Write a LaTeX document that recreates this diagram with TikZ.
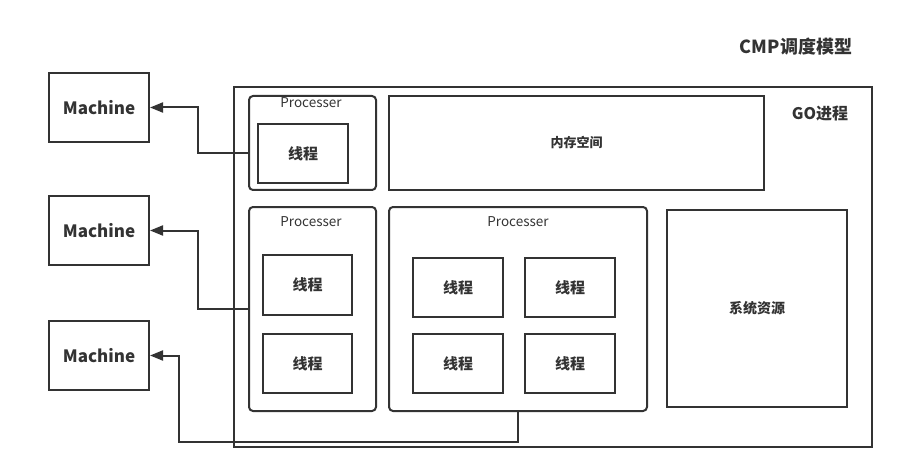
\documentclass[tikz,border=0pt]{standalone}
\usepackage{fontspec}
\setmainfont{Noto Sans CJK SC}
\usepackage{tikz}
\usetikzlibrary{arrows.meta}
\definecolor{ink}{HTML}{333333}
\tikzset{
  box/.style={draw=ink,line width=2pt,inner sep=0pt},
  procbox/.style={box,rounded corners=4pt},
  conn/.style={draw=ink,line width=2pt,-{Triangle[length=13pt,width=10pt]}},
}
\begin{document}
\begin{tikzpicture}[x=1pt,y=-1pt,text=ink]
\useasboundingbox (0,0) rectangle (923,473);
\node (title) at (796,47) {\fontsize{18}{20}\selectfont\bfseries CMP调度模型};
  \node (mach1) at (99,107.5) [box,minimum width=100pt,minimum height=69pt] {\fontsize{17}{20}\selectfont\bfseries Machine};
  \node (mach2) at (99,230.5) [box,minimum width=100pt,minimum height=69pt] {\fontsize{17}{20}\selectfont\bfseries Machine};
  \node (mach3) at (99,355.5) [box,minimum width=100pt,minimum height=69pt] {\fontsize{17}{20}\selectfont\bfseries Machine};
  \node (go) at (553,267) [box,minimum width=638pt,minimum height=360pt] {};
  \node (golbl) at (820,114) {\fontsize{16}{18}\selectfont\bfseries GO进程};
  % processer 1
  \node (proc1) at (312.5,143) [procbox,minimum width=127pt,minimum height=94pt] {};
  \node (proc1lbl) at (311,103) {\fontsize{13.5}{15}\selectfont Processer};
  \node (thr1) at (303,153.5) [box,minimum width=90pt,minimum height=59pt] {\fontsize{15}{17}\selectfont\bfseries 线程};
  \node (mem) at (576.5,143) [box,minimum width=375pt,minimum height=94pt] {\fontsize{13}{15}\selectfont\bfseries 内存空间};
  % processer 2
  \node (proc2) at (312.5,309) [procbox,minimum width=127pt,minimum height=204pt] {};
  \node (proc2lbl) at (311,222) {\fontsize{13.5}{15}\selectfont Processer};
  \node (thr2) at (307.5,285) [box,minimum width=89pt,minimum height=60pt] {\fontsize{15}{17}\selectfont\bfseries 线程};
  \node (thr3) at (307.5,363.5) [box,minimum width=89pt,minimum height=59pt] {\fontsize{15}{17}\selectfont\bfseries 线程};
  % processer 3
  \node (proc3) at (518,309) [procbox,minimum width=258pt,minimum height=204pt] {};
  \node (proc3lbl) at (518,222) {\fontsize{13.5}{15}\selectfont Processer};
  \node (thr4) at (458,287.5) [box,minimum width=90pt,minimum height=59pt] {\fontsize{15}{17}\selectfont\bfseries 线程};
  \node (thr5) at (570,287.5) [box,minimum width=90pt,minimum height=59pt] {\fontsize{15}{17}\selectfont\bfseries 线程};
  \node (thr6) at (458,363.5) [box,minimum width=90pt,minimum height=59pt] {\fontsize{15}{17}\selectfont\bfseries 线程};
  \node (thr7) at (570,363.5) [box,minimum width=90pt,minimum height=59pt] {\fontsize{15}{17}\selectfont\bfseries 线程};
  \node (sys) at (757,308.5) [box,minimum width=180pt,minimum height=197pt] {\fontsize{14}{16}\selectfont\bfseries 系统资源};
  \draw [conn] (proc1.west |- thr1) -- ++(-50,0) |- (mach1.east);
  \draw [conn] (proc2.west) -- ++(-50,0) |- (mach2.east);
  \draw [conn] (proc3.south) -- ++(0,30) -- ++(-339,0) |- (mach3.east);
\end{tikzpicture}
\end{document}
